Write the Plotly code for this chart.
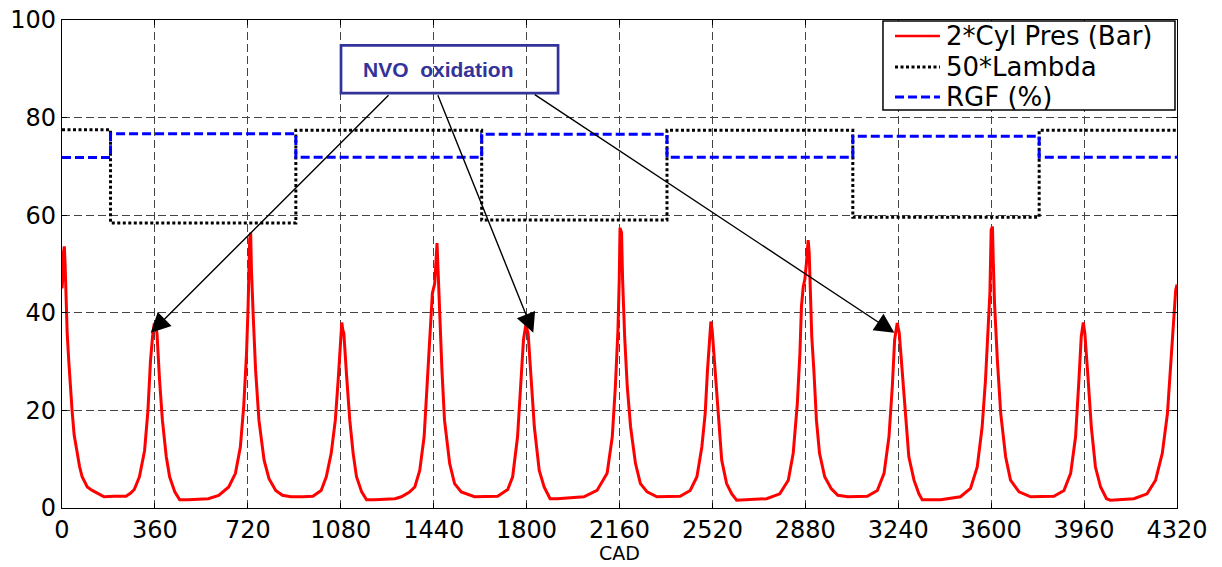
import plotly.graph_objects as go

# ---------------- data ----------------
pres_cad = [0, 3, 6, 9, 12, 15, 20, 26, 33, 39, 47, 59, 68, 78, 98, 117, 137, 163, 202, 248,
            265, 280, 300, 320, 333, 343, 352, 358, 363, 368, 378, 389, 404, 417, 437, 456, 489,
            567, 607, 646, 672, 691, 704, 715, 721, 724, 727, 731, 734, 741, 750, 763, 783, 802,
            828, 854, 887, 933, 972, 1004, 1024, 1043, 1059, 1070, 1079, 1084, 1088, 1092, 1102,
            1115, 1128, 1141, 1161, 1180, 1210, 1290, 1315, 1345, 1367, 1386, 1403, 1416, 1428,
            1435, 1444, 1450, 1453, 1457, 1463, 1472, 1482, 1502, 1521, 1547, 1598, 1688, 1727,
            1746, 1765, 1778, 1788, 1797, 1806, 1817, 1830, 1849, 1868, 1891, 1919, 2022, 2073,
            2112, 2132, 2144, 2154, 2159, 2162, 2168, 2172, 2180, 2190, 2203, 2222, 2241, 2267,
            2305, 2395, 2434, 2460, 2479, 2492, 2501, 2509, 2514, 2519, 2531, 2543, 2556, 2575,
            2595, 2614, 2653, 2730, 2781, 2814, 2833, 2849, 2859, 2865, 2872, 2878, 2884, 2891,
            2895, 2899, 2905, 2913, 2923, 2935, 2955, 2980, 3006, 3045, 3120, 3159, 3185, 3204,
            3217, 3226, 3236, 3244, 3255, 3268, 3281, 3301, 3320, 3333, 3404, 3481, 3520, 3546,
            3565, 3578, 3587, 3595, 3600, 3605, 3608, 3613, 3624, 3637, 3656, 3675, 3708, 3753,
            3843, 3882, 3908, 3927, 3940, 3949, 3957, 3963, 3975, 3988, 4004, 4024, 4047, 4062,
            4153, 4204, 4237, 4263, 4283, 4296, 4306, 4315, 4320]
pres_val = [45.0, 47.0, 52.5, 53.6, 50.0, 44.0, 36.0, 30.3, 24.0, 20.0, 15.0, 11.0, 8.5, 6.4, 4.3,
            3.6, 3.0, 2.3, 2.4, 2.4,
            3.0, 3.8, 6.4, 11.8, 20.0, 30.3, 35.8, 37.9, 37.0, 35.8, 26.2, 18.0, 10.5, 6.4, 3.3,
            1.7, 1.7,
            1.9, 2.6, 4.3, 7.1, 12.5, 20.8, 31.7, 41.3, 46.0, 55.0, 56.4, 48.8, 39.2, 28.3, 18.0,
            9.8, 6.0,
            3.6, 2.6, 2.3, 2.3, 2.4, 3.6, 6.4, 11.2, 18.0, 26.2, 35.1, 38.0, 36.5, 35.8, 27.6,
            18.0, 11.2, 6.4, 3.3, 1.7, 1.7, 1.9, 2.3, 3.2, 4.3, 7.7, 14.6, 26.2, 39.2,
            44.0, 46.0, 52.0, 54.3, 48.8, 40.0, 28.3, 18.0, 9.1, 5.0, 3.3, 2.3, 2.4, 3.8,
            6.4, 14.6, 24.9, 34.5, 37.5, 35.8, 27.0, 16.6, 7.7, 4.3, 1.9, 1.9, 2.3, 3.6,
            7.1, 14.6, 24.9, 36.5, 46.8, 57.4, 56.4, 46.8, 35.1, 24.9, 16.6, 9.1, 5.0, 3.3,
            2.3, 2.4, 3.6, 6.4, 12.5, 19.4, 28.3, 35.8, 38.2, 36.5, 27.6, 18.0, 9.8, 5.0,
            2.9, 1.6, 1.7, 1.9, 2.9, 5.7, 11.2, 21.4, 31.7, 41.3, 45.4, 46.8, 50.0, 54.9,
            52.3, 45.4, 35.0, 28.3, 18.0, 11.2, 6.4, 4.0, 2.6, 2.3, 2.4, 3.6, 7.1, 14.6,
            24.9, 34.5, 37.9, 35.8, 28.3, 18.0, 10.5, 5.7, 2.9, 1.7, 1.7, 2.3, 4.0, 8.4,
            16.6, 26.2, 36.5, 44.0, 57.0, 57.7, 50.9, 42.0, 30.3, 19.4, 10.5, 5.7, 3.3, 2.3,
            2.4, 3.6, 7.1, 14.6, 26.2, 35.1, 38.0, 35.8, 26.9, 16.6, 8.4, 4.3, 1.9, 1.6,
            1.9, 2.9, 5.7, 11.2, 19.4, 29.7, 38.6, 44.7, 45.8]

step_cad = [0, 188, 906, 1626, 2344, 3064, 3786, 4320]
lambda_val = [77.5, 58.4, 77.4, 59.0, 77.4, 59.6, 77.4, 77.4]
rgf_val = [71.8, 76.7, 71.9, 76.6, 71.9, 76.2, 71.9, 71.9]

x_ticks = [0, 360, 720, 1080, 1440, 1800, 2160, 2520, 2880, 3240, 3600, 3960, 4320]
y_ticks = [0, 20, 40, 60, 80, 100]
x_title = "CAD"

series_names = ["2*Cyl Pres (Bar)", "50*Lambda", "RGF (%)"]
series_colors = ["#ff0000", "#000000", "#0000ff"]
series_dash = ["solid", "3px,2.5px", "9px,4px"]

# annotation targets (CAD, value)
box_text = "NVO  oxidation"
arrow_tails = [(1271, 84.9), (1454, 84.9), (1826, 84.9)]
arrow_heads = [(344, 35.9), (1826, 35.9), (3225, 35.9)]

TICKFONT = "DejaVu Sans, sans-serif"
ARIAL = "Arial, Liberation Sans, sans-serif"

fig = go.Figure()
fig.add_trace(go.Scatter(x=pres_cad, y=pres_val, mode="lines", name=series_names[0],
                         line=dict(color=series_colors[0], width=3, dash=series_dash[0])))
fig.add_trace(go.Scatter(x=step_cad, y=lambda_val, mode="lines", name=series_names[1],
                         line=dict(color=series_colors[1], width=3, dash=series_dash[1], shape="hv")))
fig.add_trace(go.Scatter(x=step_cad, y=rgf_val, mode="lines", name=series_names[2],
                         line=dict(color=series_colors[2], width=3, dash=series_dash[2], shape="hv")))

axis_common = dict(showline=True, linecolor="black", linewidth=1.2, mirror="ticks",
                   ticks="inside", ticklen=5, tickcolor="black", automargin=False,
                   showgrid=True, gridcolor="#444444", gridwidth=1, griddash="8px,4px",
                   zeroline=False, tickfont=dict(family=TICKFONT, size=24, color="black"))

fig.update_xaxes(range=[0, 4320], tickvals=x_ticks, ticktext=[str(v) for v in x_ticks],
                 **axis_common)
fig.update_yaxes(range=[0, 100], tickvals=y_ticks, ticktext=[str(v) for v in y_ticks],
                 **axis_common)

# x-axis title placed just below the tick labels
fig.add_annotation(x=0.5, y=-0.1189, xref="paper", yref="paper", text=x_title, showarrow=False,
                   xanchor="center", yanchor="bottom",
                   font=dict(family=TICKFONT, size=19, color="black"))

# NVO oxidation box
fig.add_shape(type="rect", xref="x", yref="y", x0=1081, x1=1922, y0=85.0, y1=94.8,
              line=dict(color="#333399", width=2.7), fillcolor="rgba(0,0,0,0)")
fig.add_annotation(x=1460, y=89.9, xref="x", yref="y", text="<b>" + box_text + "</b>",
                   showarrow=False, font=dict(family=ARIAL, size=21, color="#333399"))

for (tx, ty), (hx, hy) in zip(arrow_tails, arrow_heads):
    fig.add_annotation(x=hx, y=hy, ax=tx, ay=ty, xref="x", yref="y", axref="x", ayref="y",
                       text="", showarrow=True, arrowhead=2, arrowsize=2.8, arrowwidth=1.4,
                       arrowcolor="black", standoff=0)

# legend box drawn in paper coordinates (MATLAB-style compact legend)
fig.add_shape(type="rect", xref="paper", yref="paper", x0=0.7363, x1=0.9982, y0=0.8156, y1=0.998,
              line=dict(color="black", width=1.5), fillcolor="white", layer="above")
row_y = [0.9672, 0.9037, 0.8422]
for name, col, dsh, yy in zip(series_names, series_colors, series_dash, row_y):
    fig.add_shape(type="line", xref="paper", yref="paper", x0=0.7471, x1=0.7874, y0=yy, y1=yy,
                  line=dict(color=col, width=3 if col != "#ff0000" else 2.5, dash=dsh), layer="above")
    fig.add_annotation(x=0.7910, y=yy, xref="paper", yref="paper", text=name, showarrow=False,
                       xanchor="left", yanchor="middle",
                       font=dict(family=TICKFONT, size=26, color="black"))

fig.update_layout(
    width=1222, height=567,
    margin=dict(l=62, r=45, t=20, b=59),
    paper_bgcolor="white", plot_bgcolor="white",
    font=dict(family=TICKFONT, color="black"),
    showlegend=False,
)

fig.write_html("out.html")
